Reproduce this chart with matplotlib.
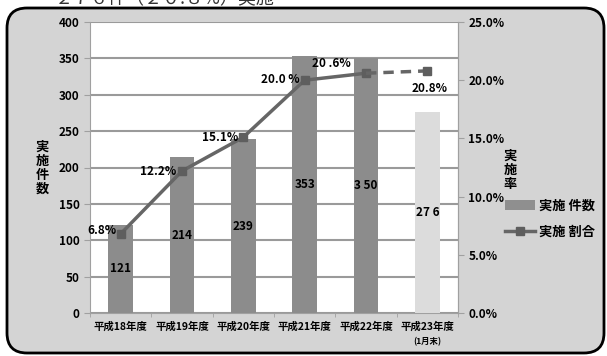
import numpy as np
import matplotlib
matplotlib.use('Agg')
import matplotlib.pyplot as plt
from matplotlib.patches import FancyBboxPatch, Patch
from matplotlib.lines import Line2D
from matplotlib.transforms import IdentityTransform

plt.rcParams['font.family'] = ['Noto Sans CJK JP', 'DejaVu Sans']

# ==================== データ ====================
years = ['平成18年度', '平成19年度', '平成20年度', '平成21年度', '平成22年度', '平成23年度']
counts = [121, 214, 239, 353, 350, 276]
count_labels = ['121', '214', '239', '353', '3 50', '27 6']
rates = [6.8, 12.2, 15.1, 20.0, 20.6, 20.8]
rate_labels = ['6.8%', '12.2%', '15.1%', '20.0 %', '20 .6%', '20.8%']
# 割合ラベルの位置 (ピクセルオフセット, 揃え)
rate_offsets = [(-4, 3, 'right'), (-6, -1, 'right'), (-5, 0, 'right'),
                (-5, 1, 'right'), (-15, 10, 'right'), (2, -18, 'center')]
# ===============================================

W, H = 607, 356
fig = plt.figure(figsize=(W / 100, H / 100), dpi=100)
fig.patch.set_facecolor('white')

# 角丸の背景パネル
panel = FancyBboxPatch((7, 3), 597, 345, boxstyle='round,pad=0,rounding_size=20',
                       transform=IdentityTransform(), facecolor='#d4d4d4',
                       edgecolor='black', linewidth=2, zorder=0)
fig.add_artist(panel)

# 上端で切れているタイトル
fig.text(55 / W, 1 - 4 / H, '２７６件（２０.８%）実施', fontsize=13,
         color='#333333', ha='left', va='baseline')

ax = fig.add_axes([90 / W, 1 - 313 / H, (458 - 90) / W, (313 - 22) / H])
ax.set_facecolor('white')
x = np.arange(len(years))
bar_colors = ['#8c8c8c'] * 5 + ['#dcdcdc']
bars = ax.bar(x, counts, width=0.4, color=bar_colors, zorder=3)
ax.set_xlim(-0.5, len(years) - 0.5)
ax.set_ylim(0, 400)
ax.set_yticks(np.arange(0, 401, 50))
ax.grid(axis='y', color='#9a9a9a', linewidth=1.5, zorder=1)
ax.set_axisbelow(True)
ax.spines['top'].set_visible(False)
for s in ['left', 'right', 'bottom']:
    ax.spines[s].set_color('#a0a0a0')
ax.tick_params(axis='y', colors='#a0a0a0', labelcolor='black', length=4, labelsize=8.5)
for t in ax.get_yticklabels():
    t.set_fontweight('bold')
ax.set_xticks(x)
ax.set_xticklabels(years, fontsize=7.5, fontweight='bold')
ax.tick_params(axis='x', length=0, pad=6)
ax.set_xticks(np.arange(-0.5, len(years), 1), minor=True)
ax.tick_params(axis='x', which='minor', length=3, color='#a0a0a0')
ax.text(5, -0.097, '(1月末)', transform=ax.get_xaxis_transform(),
        ha='center', va='center', fontsize=6, fontweight='bold')

for b, lab in zip(bars, count_labels):
    ax.text(b.get_x() + b.get_width() / 2, b.get_height() / 2, lab,
            ha='center', va='center', fontsize=8.5, fontweight='bold', zorder=4)

ax2 = ax.twinx()
ax2.set_ylim(0, 25)
ax2.set_yticks(np.arange(0, 26, 5))
ax2.set_yticklabels([f'{v:.1f}%' for v in np.arange(0, 26, 5)], fontsize=8.5, fontweight='bold')
ax2.tick_params(axis='y', colors='#a0a0a0', labelcolor='black', length=4)
for s in ['top', 'left', 'bottom']:
    ax2.spines[s].set_visible(False)
ax2.spines['right'].set_color('#a0a0a0')

line_color = '#666666'
ax2.plot(x[:5], rates[:5], color=line_color, linewidth=2.5, marker='s',
         markersize=6, markerfacecolor='#5e5e5e', markeredgecolor='#5e5e5e', zorder=5)
ax2.plot(x[4:], rates[4:], color=line_color, linewidth=2.5, linestyle=(0, (3, 2)),
         marker='s', markevery=[1], markersize=6, markerfacecolor='#5e5e5e',
         markeredgecolor='#5e5e5e', zorder=5)
for xi, r, lab, (dx, dy, ha) in zip(x, rates, rate_labels, rate_offsets):
    ax2.annotate(lab, (xi, r), xytext=(dx, dy), textcoords='offset pixels',
                 ha=ha, va='center', fontsize=8.5, fontweight='bold', zorder=6)

# 軸タイトル（縦書き）
fig.text(42 / W, 1 - 168 / H, '実\n施\n件\n数', ha='center', va='center',
         fontsize=9.5, fontweight='bold', linespacing=1.0)
fig.text(510 / W, 1 - 170 / H, '実\n施\n率', ha='center', va='center',
         fontsize=9.5, fontweight='bold', linespacing=1.0)

handles = [Patch(facecolor='#8f8f8f', edgecolor='none'),
           Line2D([0], [0], color=line_color, linewidth=2.5, marker='s',
                  markersize=6, markerfacecolor='#5e5e5e', markeredgecolor='#5e5e5e')]
fig.legend(handles, ['実施 件数', '実施 割合'], loc='upper left',
           bbox_to_anchor=(505 / W, 1 - 199 / H), frameon=False,
           prop={'size': 9.5, 'weight': 'bold'},
           handlelength=2.3, handleheight=0.8, handletextpad=0.3, labelspacing=0.9,
           borderpad=0, borderaxespad=0)

fig.savefig('out.png', dpi=100)
